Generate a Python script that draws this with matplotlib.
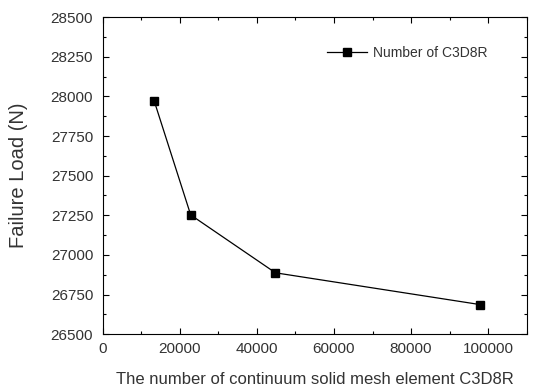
import matplotlib
matplotlib.use("Agg")
import matplotlib.pyplot as plt
from matplotlib.ticker import MultipleLocator

# mesh element counts vs failure load
elements = [13300, 22800, 44800, 97800]
failure_load = [27973, 27252, 26887, 26687]

plt.rcParams["font.family"] = ["Liberation Sans", "DejaVu Sans"]

fig = plt.figure(figsize=(5.33, 3.89), dpi=100)
ax = fig.add_axes([0.193, 0.141, 0.795, 0.815])

ax.plot(elements, failure_load, color="black", lw=0.9, marker="s",
        markersize=5.5, label="Number of C3D8R")

ax.set_xlim(0, 110000)
ax.set_ylim(26500, 28500)
ax.set_xticks([0, 20000, 40000, 60000, 80000, 100000])
ax.set_yticks(range(26500, 28501, 250))
ax.xaxis.set_minor_locator(MultipleLocator(10000))
ax.yaxis.set_minor_locator(MultipleLocator(125))
ax.tick_params(which="both", direction="in", top=True, right=True,
               labelsize=11, labelcolor="#333333", width=0.8)
ax.tick_params(which="major", length=4)
ax.tick_params(which="minor", length=2)
ax.tick_params(axis="x", pad=6)
ax.tick_params(axis="y", pad=7)
for s in ax.spines.values():
    s.set_linewidth(0.8)

ax.set_xlabel("The number of continuum solid mesh element C3D8R",
              fontsize=12, color="#333333", labelpad=11)
ax.set_ylabel("Failure Load (N)", fontsize=14.5, color="#333333", labelpad=16)

ax.legend(loc="center left", bbox_to_anchor=(0.528, 0.886), frameon=False,
          fontsize=10, handlelength=2.9, handletextpad=0.45,
          borderpad=0, borderaxespad=0, labelcolor="#333333")

fig.savefig("out.png", dpi=100)
